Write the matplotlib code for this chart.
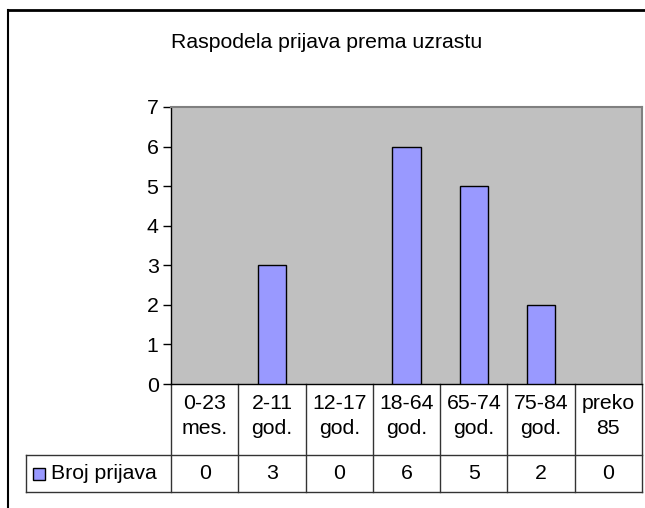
import matplotlib.pyplot as plt
from matplotlib.lines import Line2D
from matplotlib.patches import Rectangle
import matplotlib.transforms as mtransforms

plt.rcParams['font.family'] = ['Liberation Sans', 'DejaVu Sans']

title = 'Raspodela prijava prema uzrastu'
categories = ['0-23\nmes.', '2-11\ngod.', '12-17\ngod.', '18-64\ngod.',
              '65-74\ngod.', '75-84\ngod.', 'preko\n85']
series_name = 'Broj prijava'
values = [0, 3, 0, 6, 5, 2, 0]
yticks = [0, 1, 2, 3, 4, 5, 6, 7]

FS = 15.3
W, H = 645, 508
fig = plt.figure(figsize=(W / 100, H / 100), dpi=100)

# plot area in pixel terms
left, right, top, bottom = 171, 642, 107, 384
ax = fig.add_axes([left / W, (H - bottom) / H, (right - left) / W, (bottom - top) / H])
ax.set_facecolor('#C0C0C0')

x = list(range(len(categories)))
edges = ['black' if v > 0 else 'none' for v in values]
ax.bar(x, values, width=0.42, color='#9999FF', edgecolor=edges, linewidth=1.0, zorder=3)
ax.set_xlim(-0.5, len(categories) - 0.5)
ax.set_ylim(0, 7)
ax.set_yticks(yticks)
ax.set_yticklabels([str(t) for t in yticks], fontsize=FS)
ax.tick_params(axis='y', direction='out', length=6, width=1, color='black', pad=3)
ax.set_xticks([])
for s in ['top', 'right']:
    ax.spines[s].set_color('#808080')
    ax.spines[s].set_linewidth(1.5)
ax.spines['left'].set_color('black')
ax.spines['bottom'].set_color('black')
ax.spines['left'].set_linewidth(1)
ax.spines['bottom'].set_linewidth(1)

# data table below the axis
trans = mtransforms.blended_transform_factory(ax.transData, ax.transAxes)
ph = bottom - top
row1 = -(455 - bottom) / ph
row2 = -(492 - bottom) / ph
col_w = (right - left) / len(categories)
leg_left = -0.5 - (left - 26) / col_w
lc = '#333333'

for i in range(len(categories) + 1):
    ax.add_line(Line2D([i - 0.5, i - 0.5], [0, row2], transform=trans, color=lc, lw=1, clip_on=False))
ax.add_line(Line2D([leg_left, leg_left], [row1, row2], transform=trans, color=lc, lw=1, clip_on=False))
for yy in (row1, row2):
    ax.add_line(Line2D([leg_left, len(categories) - 0.5], [yy, yy], transform=trans, color=lc, lw=1, clip_on=False))

cat_y = -(416 - bottom) / ph
for i, (c, v) in enumerate(zip(categories, values)):
    ax.text(i, cat_y, c, transform=trans, ha='center', va='center', fontsize=FS,
            linespacing=1.4)
    ax.text(i, (row1 + row2) / 2, str(v), transform=trans, ha='center', va='center', fontsize=FS)

# legend key in the table
key_x = -0.5 - (left - 33) / col_w
key_w = 12 / col_w
key_h = 12 / ph
ymid = (row1 + row2) / 2
ax.add_patch(Rectangle((key_x, ymid - key_h / 2), key_w, key_h, transform=trans,
                       facecolor='#9999FF', edgecolor='black', lw=1, clip_on=False))
ax.text(key_x + key_w + 6 / col_w, ymid, series_name, transform=trans, ha='left',
        va='center', fontsize=FS)

fig.text(327 / W, 1 - 42 / H, title, ha='center', va='center', fontsize=FS)

# outer chart frame (left and top edges visible)
fig.add_artist(Line2D([8 / W, 8 / W], [0, 1 - 10 / H], color='black', lw=1.5, transform=fig.transFigure))
fig.add_artist(Line2D([8 / W, 1], [1 - 10 / H, 1 - 10 / H], color='black', lw=2, transform=fig.transFigure))

fig.savefig('out.png', dpi=100)
